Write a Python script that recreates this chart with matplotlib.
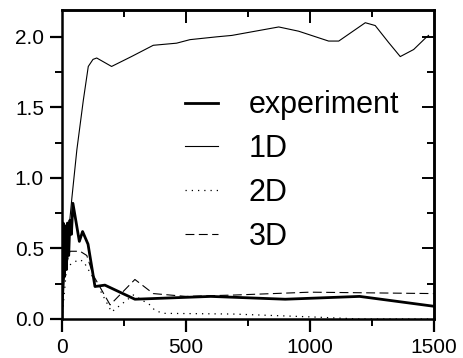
import matplotlib.pyplot as plt

plt.rcParams["font.family"] = ["Liberation Sans", "DejaVu Sans"]

# experiment (thick solid)
exp_x = [0, 5, 10, 14, 18, 22, 27, 32, 38, 44, 70, 83, 105, 133, 173, 294, 600, 900, 1200, 1500]
exp_y = [0.0, 0.68, 0.30, 0.66, 0.35, 0.68, 0.45, 0.70, 0.60, 0.82, 0.55, 0.62, 0.53, 0.23, 0.24,
         0.14, 0.16, 0.14, 0.16, 0.09]

# 1D (thin solid)
d1_x = [0, 10, 40, 60, 86, 106, 125, 140, 170, 200, 280, 368, 462, 516, 624, 685, 874, 954,
        1075, 1116, 1223, 1263, 1317, 1364, 1418, 1465, 1478]
d1_y = [0.0, 0.3, 0.86, 1.2, 1.55, 1.79, 1.84, 1.85, 1.82, 1.79, 1.86, 1.94, 1.955, 1.98, 2.0,
        2.01, 2.07, 2.04, 1.97, 1.97, 2.10, 2.08, 1.96, 1.86, 1.91, 1.99, 2.01]

# 2D (dotted)
d2_x = [0, 19, 66, 86, 140, 200, 288, 355, 375, 409, 690, 1000, 1200, 1500]
d2_y = [0.0, 0.37, 0.42, 0.41, 0.25, 0.05, 0.17, 0.10, 0.06, 0.04, 0.035, 0.015, 0.0, 0.0]

# 3D (dashed)
d3_x = [0, 5, 32, 73, 100, 126, 194, 294, 368, 500, 700, 1000, 1500]
d3_y = [0.0, 0.30, 0.48, 0.48, 0.45, 0.31, 0.10, 0.28, 0.18, 0.16, 0.17, 0.19, 0.18]

fig = plt.figure(figsize=(4.64, 3.58), dpi=100)
ax = fig.add_axes([0.1336, 0.109, 0.8017, 0.863])

ax.plot(exp_x, exp_y, color="black", linewidth=2.0, label="experiment")
ax.plot(d1_x, d1_y, color="black", linewidth=0.8, label="1D")
ax.plot(d2_x, d2_y, color="black", linewidth=0.9, linestyle=(0, (1, 4)), label="2D")
ax.plot(d3_x, d3_y, color="black", linewidth=0.8, linestyle=(0, (8, 4)), label="3D")

ax.set_xlim(0, 1500)
ax.set_ylim(0, 2.19)
ax.set_xticks([0, 500, 1000, 1500])
ax.set_xticks([250, 750, 1250], minor=True)
ax.set_yticks([0, 0.5, 1.0, 1.5, 2.0])
ax.set_yticks([0.25, 0.75, 1.25, 1.75], minor=True)
ax.set_yticklabels(["0.0", "0.5", "1.0", "1.5", "2.0"])
ax.tick_params(which="major", direction="out", length=9, width=1.6, labelsize=15, pad=4)
ax.tick_params(axis="x", which="major", pad=5)
ax.tick_params(which="minor", direction="out", length=5, width=1.4)
for s in ax.spines.values():
    s.set_linewidth(1.8)

top = ax.secondary_xaxis("top")
top.set_xticks([500, 1000])
top.set_xticks([250, 750, 1250], minor=True)
top.tick_params(which="major", direction="in", length=9, width=1.4, labeltop=False)
top.tick_params(which="minor", direction="in", length=5, width=1.4)
top.spines["top"].set_linewidth(1.8)

right = ax.secondary_yaxis("right")
right.set_yticks([0.5, 1.0, 1.5, 2.0])
right.set_yticks([0.25, 0.75, 1.25, 1.75], minor=True)
right.tick_params(which="major", direction="in", length=9, width=1.4, labelright=False)
right.tick_params(which="minor", direction="in", length=5, width=1.4)
right.spines["right"].set_linewidth(1.8)

ax.legend(loc="upper left", bbox_to_anchor=(0.33, 0.74), frameon=False, fontsize=22,
          handlelength=1.1, handletextpad=1.0, labelspacing=0.45, borderpad=0, borderaxespad=0)

fig.savefig("out.png", dpi=100)
